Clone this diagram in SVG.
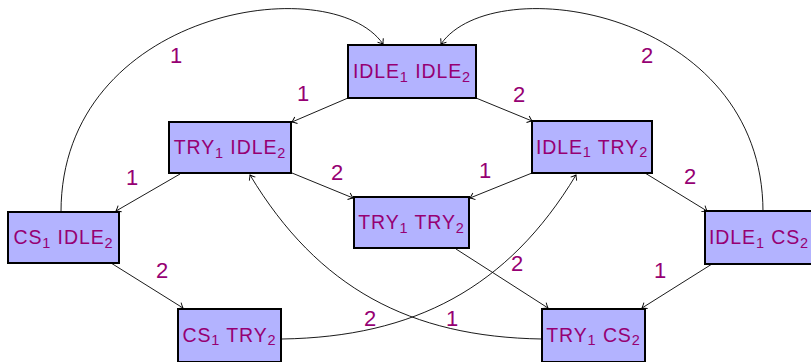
<svg xmlns="http://www.w3.org/2000/svg" width="811" height="362" viewBox="0 0 811 362">
<defs>
<marker id="arr" markerWidth="10" markerHeight="10" refX="0" refY="0" viewBox="-6 -5 8 10" orient="auto" markerUnits="userSpaceOnUse">
<path d="M-4.5,-3.5 Q-1.5,-1 0,0 Q-1.5,1 -4.5,3.5" fill="none" stroke="#000" stroke-width="0.9"/>
</marker>
</defs>
<style>
.box{fill:#b3b3ff;stroke:#000;stroke-width:2}
.nt{font-family:"Liberation Sans",Arial,sans-serif;font-size:19.5px;fill:#960073;text-anchor:middle;letter-spacing:0.9px}
.sb{font-size:14.5px}
.lb{font-family:"Liberation Sans",Arial,sans-serif;font-size:22px;fill:#960073;text-anchor:middle}
.e{fill:none;stroke:#000;stroke-width:0.9;marker-end:url(#arr)}
</style>
<g id="connectors">
<line class="e" x1="348" y1="98" x2="292" y2="122"/>
<line class="e" x1="476" y1="98" x2="532" y2="121"/>
<line class="e" x1="180" y1="174" x2="116" y2="211"/>
<line class="e" x1="292" y1="173" x2="353" y2="198"/>
<line class="e" x1="532" y1="173" x2="470" y2="198"/>
<line class="e" x1="645" y1="173" x2="707" y2="211"/>
<line class="e" x1="111" y1="263" x2="183" y2="308"/>
<line class="e" x1="712" y1="264" x2="642" y2="308"/>
<line class="e" x1="456" y1="249" x2="548" y2="308"/>
<path class="e" d="M282,339 C414,337 508,288 576,175"/>
<path class="e" d="M542,339 C410,337 318,288 250,175"/>
<path class="e" d="M61,212 C61,10 330,-32 383,44"/>
<path class="e" d="M763,212 C763,10 494,-32 441,44"/>
<text class="lb" x="176" y="63">1</text>
<text class="lb" x="647" y="63">2</text>
<text class="lb" x="303" y="101">1</text>
<text class="lb" x="519" y="102">2</text>
<text class="lb" x="132" y="185">1</text>
<text class="lb" x="337" y="180">2</text>
<text class="lb" x="485" y="178">1</text>
<text class="lb" x="690" y="184">2</text>
<text class="lb" x="162" y="278">2</text>
<text class="lb" x="660" y="278">1</text>
<text class="lb" x="517" y="271">2</text>
<text class="lb" x="370" y="326">2</text>
<text class="lb" x="452" y="326">1</text>
</g>
<g id="n_idle_idle">
<rect class="box" x="348" y="45" width="128" height="53"/>
<text class="nt" x="412" y="78">IDLE<tspan class="sb" dy="3.5">1</tspan><tspan dy="-3.5"> IDLE</tspan><tspan class="sb" dy="3.5">2</tspan></text>
</g>
<g id="n_try_idle">
<rect class="box" x="169" y="122" width="122" height="51"/>
<text class="nt" x="230" y="154">TRY<tspan class="sb" dy="3.5">1</tspan><tspan dy="-3.5"> IDLE</tspan><tspan class="sb" dy="3.5">2</tspan></text>
</g>
<g id="n_idle_try">
<rect class="box" x="532" y="121" width="120" height="52"/>
<text class="nt" x="592" y="153.5">IDLE<tspan class="sb" dy="3.5">1</tspan><tspan dy="-3.5"> TRY</tspan><tspan class="sb" dy="3.5">2</tspan></text>
</g>
<g id="n_cs_idle">
<rect class="box" x="8" y="212" width="111" height="51"/>
<text class="nt" x="63.5" y="244">CS<tspan class="sb" dy="3.5">1</tspan><tspan dy="-3.5"> IDLE</tspan><tspan class="sb" dy="3.5">2</tspan></text>
</g>
<g id="n_try_try">
<rect class="box" x="354" y="197" width="115" height="51"/>
<text class="nt" x="411.5" y="229">TRY<tspan class="sb" dy="3.5">1</tspan><tspan dy="-3.5"> TRY</tspan><tspan class="sb" dy="3.5">2</tspan></text>
</g>
<g id="n_idle_cs">
<rect class="box" x="705" y="211" width="108" height="53"/>
<text class="nt" x="759" y="244">IDLE<tspan class="sb" dy="3.5">1</tspan><tspan dy="-3.5"> CS</tspan><tspan class="sb" dy="3.5">2</tspan></text>
</g>
<g id="n_cs_try">
<rect class="box" x="178" y="309" width="103" height="53"/>
<text class="nt" x="229.5" y="341.5">CS<tspan class="sb" dy="3.5">1</tspan><tspan dy="-3.5"> TRY</tspan><tspan class="sb" dy="3.5">2</tspan></text>
</g>
<g id="n_try_cs">
<rect class="box" x="542" y="309" width="103" height="53"/>
<text class="nt" x="593.5" y="341.5">TRY<tspan class="sb" dy="3.5">1</tspan><tspan dy="-3.5"> CS</tspan><tspan class="sb" dy="3.5">2</tspan></text>
</g>
</svg>
